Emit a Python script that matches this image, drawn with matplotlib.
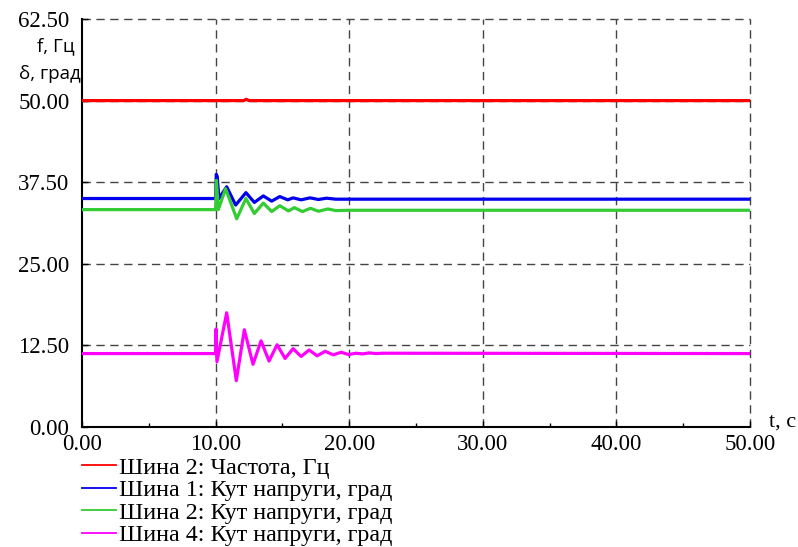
import matplotlib
matplotlib.use("Agg")
import matplotlib.pyplot as plt
from matplotlib.lines import Line2D

# ---- data ----
freq_t = [0.0, 10.0, 12.1, 12.3, 12.5, 50.0]
freq_v = [50.0, 50.0, 50.0, 50.2, 50.0, 50.0]

bus1_t = [0.0, 10.0, 10.05, 10.12, 10.25, 10.83, 11.5, 12.27, 12.9, 13.57, 14.2,
          14.8, 15.4, 15.8, 16.4, 17.07, 17.7, 18.3, 19.0, 20.0, 50.0]
bus1_v = [35.0, 35.0, 38.7, 38.4, 35.0, 36.8, 34.0, 35.9, 34.4, 35.4, 34.6,
          35.3, 34.8, 35.1, 34.8, 35.1, 34.85, 35.05, 34.9, 34.9, 34.9]

bus2_t = [0.0, 10.0, 10.06, 10.2, 10.75, 11.58, 12.27, 12.9, 13.57, 14.2,
          14.8, 15.45, 15.9, 16.5, 17.1, 17.7, 18.4, 19.0, 20.0, 50.0]
bus2_v = [33.3, 33.3, 37.8, 33.3, 36.5, 31.9, 35.0, 32.7, 34.3, 33.0,
          33.9, 33.1, 33.6, 33.0, 33.5, 33.05, 33.4, 33.15, 33.2, 33.2]

bus4_t = [0.0, 10.0, 10.03, 10.1, 10.83, 11.55, 12.15, 12.8, 13.4, 14.0, 14.6,
          15.2, 15.8, 16.4, 17.0, 17.6, 18.2, 18.8, 19.4, 19.95, 20.5, 21.0,
          21.5, 22.0, 22.5, 50.0]
bus4_v = [11.25, 11.25, 15.0, 10.0, 17.5, 7.1, 14.9, 9.6, 13.2, 10.1, 12.6,
          10.5, 12.0, 10.8, 11.8, 10.9, 11.6, 11.05, 11.45, 11.1, 11.3, 11.2,
          11.35, 11.25, 11.3, 11.25]

series_labels = ["Шина 2: Частота, Гц",
                 "Шина 1: Кут напруги, град",
                 "Шина 2: Кут напруги, град",
                 "Шина 4: Кут напруги, град"]
series_colors = ["#ff0000", "#0000ee", "#33cc33", "#ff00ff"]

x_ticks = [0, 10, 20, 30, 40, 50]
y_ticks = [0, 12.5, 25, 37.5, 50, 62.5]

# ---- figure ----
fig = plt.figure(figsize=(7.98, 5.47), dpi=100)
ax = fig.add_axes([82 / 798, 1 - 427 / 547, (750 - 82) / 798, (427 - 19) / 547])

series = [(freq_t, freq_v), (bus1_t, bus1_v), (bus2_t, bus2_v), (bus4_t, bus4_v)]
for (t, v), c in zip(series, series_colors):
    ax.plot(t, v, color=c, lw=2.3, solid_joinstyle="round", zorder=3)

ax.set_xlim(0, 50)
ax.set_ylim(0, 62.5)

grid_kw = dict(color="#444444", lw=1.0, ls=(0, (6, 4)), zorder=1, clip_on=False)
for x in x_ticks[1:]:
    ax.axvline(x, **grid_kw)
for y in y_ticks[1:]:
    ax.axhline(y, **grid_kw)

for s in ["top", "right"]:
    ax.spines[s].set_visible(False)
for s in ["left", "bottom"]:
    ax.spines[s].set_color("black")
    ax.spines[s].set_linewidth(1.5)

serif = "Liberation Serif"
ax.set_xticks(x_ticks)
ax.set_xticklabels([f"{v:.2f}" for v in x_ticks], family=serif, fontsize=16.5)
ax.set_xticks([5, 15, 25, 35, 45], minor=True)
ax.set_yticks(y_ticks)
ax.set_yticklabels([f"{v:.2f}" for v in y_ticks], family=serif, fontsize=16.5)
ax.tick_params(axis="both", which="major", direction="in", length=4, width=1,
               color="black")
ax.tick_params(axis="x", which="minor", direction="in", length=3, width=1)
ax.tick_params(axis="x", pad=5)
ax.tick_params(axis="y", pad=9)

# axis titles
fig.text(56 / 798, 1 - 46 / 547, "f, Гц", family="Open Sans", fontsize=13.5,
         ha="center", va="center")
fig.text(50 / 798, 1 - 74 / 547, "δ, град", family="Open Sans", fontsize=13.5,
         ha="center", va="center")
fig.text(783 / 798, 1 - 422 / 547, "t, c", family=serif, fontsize=16,
         ha="center", va="center")

# legend
handles = [Line2D([], [], color=c, lw=1.3) for c in series_colors]
leg = ax.legend(handles, series_labels, loc="upper left",
                bbox_to_anchor=(0.0, -0.073), frameon=False,
                prop={"family": serif, "size": 17.3},
                handlelength=1.4, handletextpad=0.16, labelspacing=0.03,
                borderaxespad=0, borderpad=0)

fig.savefig("out.png", dpi=100)
